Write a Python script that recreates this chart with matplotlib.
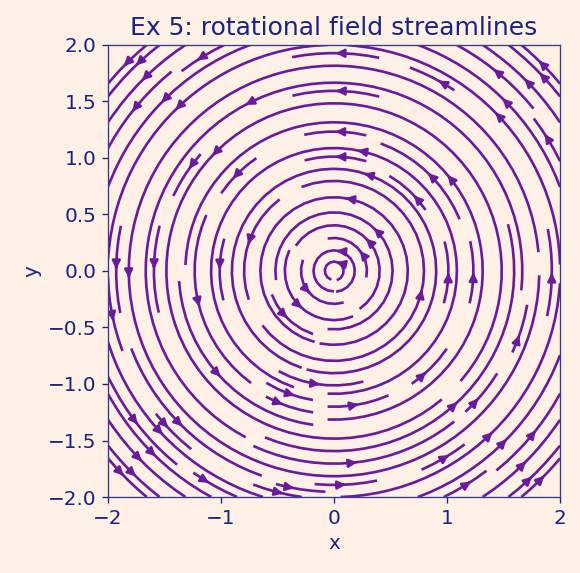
import numpy as np
import matplotlib
matplotlib.use("Agg")
import matplotlib.pyplot as plt

x_range = [-2, 2]
y_range = [-2, 2]
n_grid = 20
x_ticks = [-2, -1, 0, 1, 2]
y_ticks = [-2.0, -1.5, -1.0, -0.5, 0.0, 0.5, 1.0, 1.5, 2.0]

bg = "#fdf1e6"
line_c = "#6a1b9a"
text_c = "#1a237e"

fig = plt.figure(figsize=(580 / 120, 573 / 120), dpi=120, facecolor=bg)
ax = fig.add_axes([0.1845, 0.1326, 0.7828, 0.789])
ax.set_facecolor(bg)

xs = np.linspace(x_range[0], x_range[1], n_grid)
ys = np.linspace(y_range[0], y_range[1], n_grid)
X, Y = np.meshgrid(xs, ys)
U = -Y
V = X
ax.streamplot(X, Y, U, V, color=line_c, density=1.2, linewidth=1.6, arrowsize=1.0)

ax.set_xlim(x_range)
ax.set_ylim(y_range)
ax.set_aspect("equal")
ax.set_xticks(x_ticks)
ax.set_yticks(y_ticks)
ax.set_xlabel("x", color=text_c, fontsize=12)
ax.set_ylabel("y", color=text_c, fontsize=12)
ax.set_title("Ex 5: rotational field streamlines", color=text_c, fontsize=15)
ax.tick_params(colors=text_c, labelsize=12)
for s in ax.spines.values():
    s.set_color("#3c3c8c")

fig.savefig("out.png", dpi=120, facecolor=bg)
